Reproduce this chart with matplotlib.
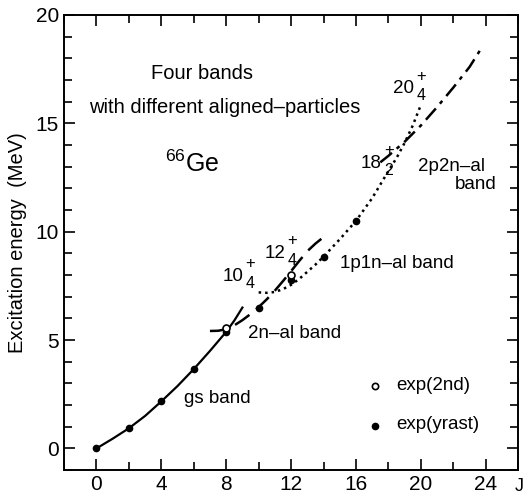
import matplotlib.pyplot as plt
from matplotlib.ticker import MultipleLocator

plt.rcParams['font.family'] = ['Liberation Sans', 'DejaVu Sans']
plt.rcParams['mathtext.fontset'] = 'custom'
plt.rcParams['mathtext.rm'] = 'Liberation Sans'

# experimental levels
j_yrast = [0, 2, 4, 6, 8, 10, 12, 14, 16]
e_yrast = [0.0, 0.93, 2.17, 3.66, 5.38, 6.5, 7.78, 8.82, 10.5]
j_2nd = [8, 12]
e_2nd = [5.55, 8.02]

# calculated bands
j_gs = [0, 1, 2, 3, 4, 5, 6, 7, 8, 8.5, 9]
e_gs = [0.0, 0.45, 0.93, 1.5, 2.17, 2.88, 3.66, 4.5, 5.38, 5.9, 6.5]
j_2n = [7, 7.5, 8, 8.5, 9, 9.5, 10, 10.5, 11, 11.5, 12, 12.5, 13, 13.5, 14]
e_2n = [5.42, 5.43, 5.5, 5.68, 5.92, 6.2, 6.52, 6.88, 7.28, 7.72, 8.18, 8.65, 9.1, 9.45, 9.75]
j_1p1n = [10, 10.5, 11, 11.5, 12, 12.5, 13, 13.5, 14, 15, 16, 17, 18, 18.5, 19, 19.5, 20]
e_1p1n = [7.2, 7.18, 7.22, 7.35, 7.55, 7.82, 8.15, 8.48, 8.85, 9.65, 10.5, 11.55, 12.8, 13.4, 14.1, 14.9, 15.85]
j_2p2n = [17.5, 18, 19, 20, 21, 22, 23, 23.8]
e_2p2n = [13.2, 13.5, 14.15, 14.9, 15.75, 16.65, 17.6, 18.55]

# state labels: spin, subscript, position of the spin number (right edge, centre)
state_labels = [('20', '4', 19.6, 16.6), ('18', '2', 17.6, 13.15), ('12', '4', 11.65, 9.0),
                ('10', '4', 9.05, 7.95)]

fig = plt.figure(figsize=(5.24, 4.97), dpi=100)
ax = fig.add_axes([0.122, 0.054, 0.867, 0.916])

ax.plot(j_gs, e_gs, color='black', lw=1.6, ls='-')
ax.plot(j_2n, e_2n, color='black', lw=1.8, ls=(0, (7, 3.5)))
ax.plot(j_1p1n, e_1p1n, color='black', lw=1.8, ls=(0, (1, 1.6)))
ax.plot(j_2p2n, e_2p2n, color='black', lw=1.8, ls=(0, (6, 2.5, 1.5, 2.5)))

ax.plot(j_yrast, e_yrast, 'o', color='black', ms=4.5, zorder=3)
ax.plot(j_2nd, e_2nd, 'o', mfc='white', mec='black', mew=1.2, ms=5, zorder=4)

ax.set_xlim(-2, 26)
ax.set_ylim(-1, 20)
ax.xaxis.set_major_locator(MultipleLocator(4))
ax.xaxis.set_minor_locator(MultipleLocator(2))
ax.yaxis.set_major_locator(MultipleLocator(5))
ax.yaxis.set_minor_locator(MultipleLocator(1))
ax.tick_params(which='both', direction='in', top=True, right=True, labelsize=15, width=1.2)
ax.tick_params(which='major', length=8)
ax.tick_params(which='minor', length=6)
for s in ax.spines.values():
    s.set_linewidth(1.4)

ax.set_ylabel('Excitation energy  (MeV)', fontsize=14.5, labelpad=6)
fig.text(1.0, 0.005, 'J', fontsize=13, ha='right', va='bottom')

ax.text(6.5, 17.3, 'Four bands', fontsize=14.5, ha='center', va='center')
ax.text(7.9, 15.75, 'with different aligned\u2013particles', fontsize=14.5, ha='center', va='center')
ax.text(5.9, 13.15, r'$^{66}$Ge', fontsize=18, ha='center', va='center')

for spin, sub, x, y in state_labels:
    ax.text(x, y, spin, fontsize=13.5, ha='right', va='center')
    ax.annotate('+', (x, y), xytext=(1.5, 9), textcoords='offset points',
                fontsize=12, ha='left', va='center')
    ax.annotate(sub, (x, y), xytext=(1.5, -5), textcoords='offset points',
                fontsize=11.5, ha='left', va='center')

ax.text(21.9, 13.0, '2p2n\u2013al', fontsize=13.5, ha='center', va='center')
ax.text(23.4, 12.2, 'band', fontsize=13.5, ha='center', va='center')
ax.text(15.0, 8.55, '1p1n\u2013al band', fontsize=13.5, ha='left', va='center')
ax.text(9.35, 5.3, '2n\u2013al band', fontsize=13.5, ha='left', va='center')
ax.text(5.4, 2.3, 'gs band', fontsize=13.5, ha='left', va='center')

ax.plot([17.2], [2.86], 'o', mfc='white', mec='black', mew=1.2, ms=4.5)
ax.text(18.5, 2.9, 'exp(2nd)', fontsize=13.5, ha='left', va='center')
ax.plot([17.2], [1.06], 'o', color='black', ms=4.5)
ax.text(18.5, 1.1, 'exp(yrast)', fontsize=13.5, ha='left', va='center')

fig.savefig('out.png', dpi=100)
